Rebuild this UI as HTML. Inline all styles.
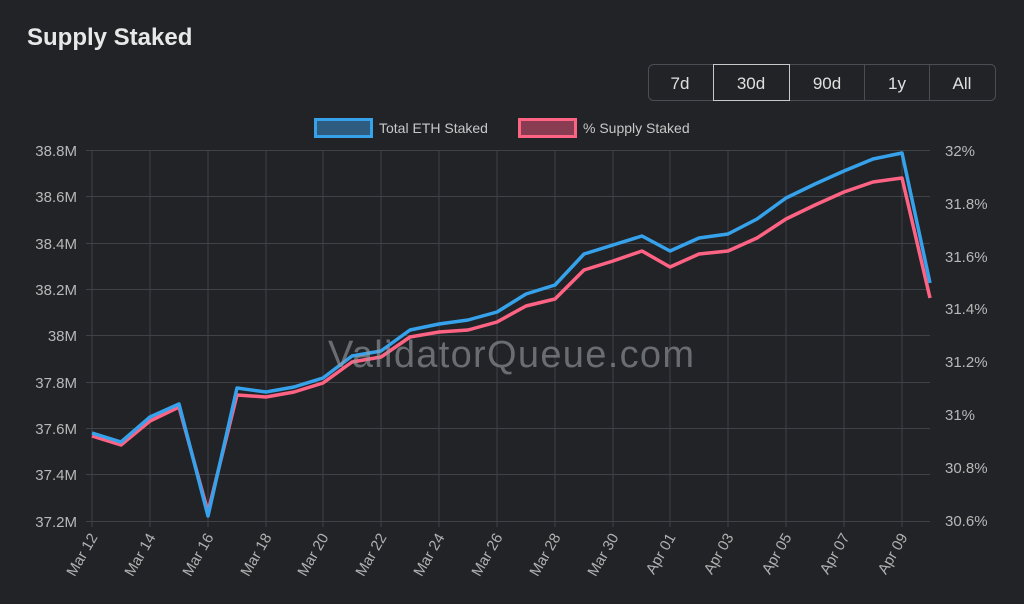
<!DOCTYPE html>
<html><head><meta charset="utf-8"><style>
html,body{margin:0;padding:0;background:#212327;width:1024px;height:604px;overflow:hidden;font-family:"Liberation Sans",sans-serif}
</style></head><body>
<svg width="1024" height="604" xmlns="http://www.w3.org/2000/svg" font-family="Liberation Sans, sans-serif">
<rect width="1024" height="604" fill="#212327"/>
<text x="27" y="45" fill="#e8e8e8" font-size="24" font-weight="bold">Supply Staked</text>
<g font-size="17" fill="#e0e0e0" text-anchor="middle">
<rect x="648.5" y="64.5" width="347" height="36" rx="5" fill="none" stroke="#4a4d53"/>
<line x1="864.5" y1="64" x2="864.5" y2="100" stroke="#4a4d53"/>
<line x1="929.5" y1="64" x2="929.5" y2="100" stroke="#4a4d53"/>
<rect x="713.5" y="64.5" width="76" height="36" fill="none" stroke="#c8c8c8"/>
<text x="680" y="89">7d</text><text x="751" y="89">30d</text><text x="827" y="89">90d</text><text x="897" y="89">1y</text><text x="962" y="89">All</text>
</g>
<rect x="315.5" y="119.5" width="56" height="17" fill="#2e5c80" stroke="#36a2eb" stroke-width="3"/>
<text x="379" y="133" fill="#c8c8c8" font-size="14">Total ETH Staked</text>
<rect x="519.5" y="119.5" width="56" height="17" fill="#8a3d52" stroke="#ff6384" stroke-width="3"/>
<text x="583" y="133" fill="#c8c8c8" font-size="14">% Supply Staked</text>
<g stroke="#3f4247" stroke-width="1">
<line x1="86" y1="150.5" x2="930" y2="150.5"/><line x1="86" y1="196.5" x2="930" y2="196.5"/><line x1="86" y1="243.5" x2="930" y2="243.5"/><line x1="86" y1="289.5" x2="930" y2="289.5"/><line x1="86" y1="335.5" x2="930" y2="335.5"/><line x1="86" y1="382.5" x2="930" y2="382.5"/><line x1="86" y1="428.5" x2="930" y2="428.5"/><line x1="86" y1="474.5" x2="930" y2="474.5"/><line x1="86" y1="521.5" x2="930" y2="521.5"/>
<line x1="92" y1="150" x2="92" y2="527"/><line x1="150" y1="150" x2="150" y2="527"/><line x1="208" y1="150" x2="208" y2="527"/><line x1="266" y1="150" x2="266" y2="527"/><line x1="323" y1="150" x2="323" y2="527"/><line x1="381" y1="150" x2="381" y2="527"/><line x1="439" y1="150" x2="439" y2="527"/><line x1="497" y1="150" x2="497" y2="527"/><line x1="555" y1="150" x2="555" y2="527"/><line x1="613" y1="150" x2="613" y2="527"/><line x1="670" y1="150" x2="670" y2="527"/><line x1="728" y1="150" x2="728" y2="527"/><line x1="786" y1="150" x2="786" y2="527"/><line x1="844" y1="150" x2="844" y2="527"/><line x1="902" y1="150" x2="902" y2="527"/>
</g>
<g fill="#b8b8b8" font-size="15" text-anchor="end">
<text x="77" y="156">38.8M</text><text x="77" y="202">38.6M</text><text x="77" y="249">38.4M</text><text x="77" y="295">38.2M</text><text x="77" y="341">38M</text><text x="77" y="388">37.8M</text><text x="77" y="434">37.6M</text><text x="77" y="480">37.4M</text><text x="77" y="527">37.2M</text>
</g>
<g fill="#b8b8b8" font-size="15">
<text x="945" y="156">32%</text><text x="945" y="209">31.8%</text><text x="945" y="262">31.6%</text><text x="945" y="314">31.4%</text><text x="945" y="367">31.2%</text><text x="945" y="420">31%</text><text x="945" y="473">30.8%</text><text x="945" y="526">30.6%</text>
</g>
<g fill="#b0b0b0" font-size="15" text-anchor="end">
<text transform="translate(98,537) rotate(-60)">Mar 12</text><text transform="translate(156,537) rotate(-60)">Mar 14</text><text transform="translate(214,537) rotate(-60)">Mar 16</text><text transform="translate(272,537) rotate(-60)">Mar 18</text><text transform="translate(329,537) rotate(-60)">Mar 20</text><text transform="translate(387,537) rotate(-60)">Mar 22</text><text transform="translate(445,537) rotate(-60)">Mar 24</text><text transform="translate(503,537) rotate(-60)">Mar 26</text><text transform="translate(561,537) rotate(-60)">Mar 28</text><text transform="translate(619,537) rotate(-60)">Mar 30</text><text transform="translate(676,537) rotate(-60)">Apr 01</text><text transform="translate(734,537) rotate(-60)">Apr 03</text><text transform="translate(792,537) rotate(-60)">Apr 05</text><text transform="translate(850,537) rotate(-60)">Apr 07</text><text transform="translate(908,537) rotate(-60)">Apr 09</text>
</g>
<polyline fill="none" stroke="#ff6384" stroke-width="3.5" stroke-linejoin="round" points="92,436 121,445 150,421 179,407 208,512 237,395 266,397 294,392 323,383 352,362 381,357 410,337 439,332 468,330 497,322 526,306 555,299 584,270 613,261 642,251 670,267 699,254 728,251 757,238 786,219 815,205 844,192 873,182 902,178 930,298"/>
<polyline fill="none" stroke="#36a2eb" stroke-width="3.5" stroke-linejoin="round" points="92,433 121,442 150,417 179,404 208,516 237,388 266,392 294,387 323,378 352,356 381,351 410,330 439,324 468,320 497,312 526,294 555,285 584,254 613,245 642,236 670,251 699,238 728,234 757,219 786,198 815,184 844,171 873,159 902,153 930,283"/>
<text x="511" y="367" fill="#9a9ca2" fill-opacity="0.6" font-size="38" text-anchor="middle" textLength="366">ValidatorQueue.com</text>
</svg>
</body></html>
